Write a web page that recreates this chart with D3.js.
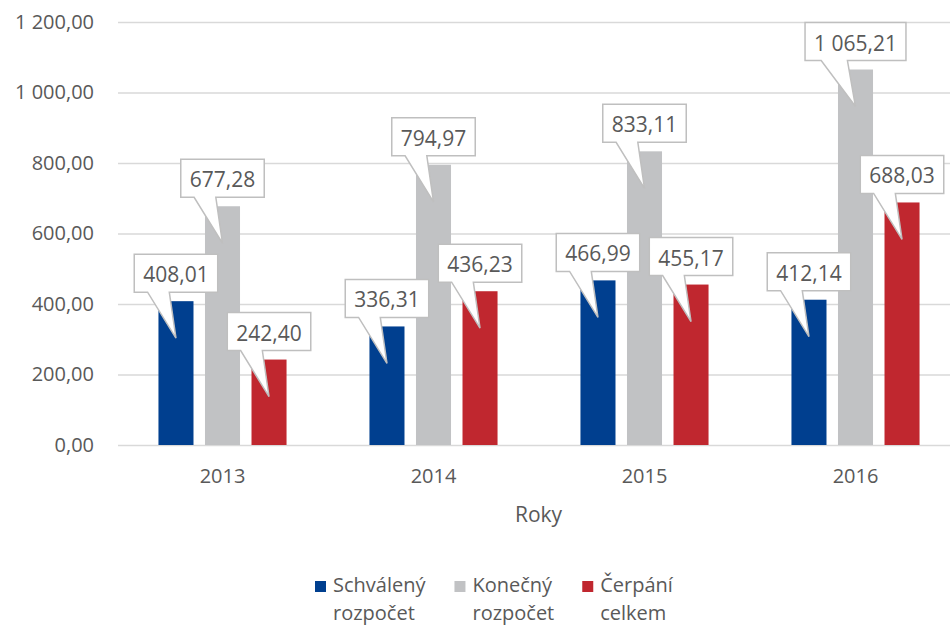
<!DOCTYPE html>
<html>
<head>
<meta charset="utf-8">
<script src="https://cdn.jsdelivr.net/npm/d3@7"></script>
<style>
  body { margin: 0; background: #fff; }
  svg { display: block; font-family: "Open Sans", "Noto Sans", sans-serif; }
</style>
</head>
<body>
<div class="chart"></div>
<script>
// chart data
const years = ["2013", "2014", "2015", "2016"];
const seriesNames = ["Schválený rozpočet", "Konečný rozpočet", "Čerpání celkem"];
const legendLines = [["Schválený", "rozpočet"], ["Konečný", "rozpočet"], ["Čerpání", "celkem"]];
const schvaleny = [408.01, 336.31, 466.99, 412.14];
const konecny = [677.28, 794.97, 833.11, 1065.21];
const cerpani = [242.40, 436.23, 455.17, 688.03];
const yTicks = [0, 200, 400, 600, 800, 1000, 1200];
const xTitle = "Roky";

const colors = ["#003f8f", "#c1c2c4", "#c0272f"];
const textColor = "#595959";

const width = 950, height = 625;
const svg = d3.select(".chart").append("svg")
  .attr("width", width)
  .attr("height", height);

// czech number format: space thousands, comma decimal
const cz = d3.formatLocale({ decimal: ",", thousands: " ", grouping: [3], currency: ["", " Kč"] });
const fmt = cz.format(",.2f");

const plotLeft = 118, plotRight = 961, plotTop = 22, plotBottom = 445;

const y = d3.scaleLinear().domain([0, 1200]).range([plotBottom, plotTop]);

const x0 = d3.scaleBand()
  .domain(years)
  .range([117, 961])
  .paddingInner(0.393)
  .paddingOuter(0.1965);

const x1 = d3.scaleBand()
  .domain(d3.range(seriesNames.length))
  .range([0, x0.bandwidth()])
  .paddingInner(0.247);

// gridlines + y labels
const yAxis = svg.append("g")
  .attr("transform", `translate(${plotLeft},0)`)
  .call(d3.axisLeft(y).tickValues(yTicks).tickFormat(fmt)
    .tickSize(-(plotRight - plotLeft)).tickPadding(24));
yAxis.select(".domain").remove();
yAxis.selectAll("line").attr("stroke", "#d9d9d9").attr("stroke-width", 1.3);
yAxis.selectAll("text").attr("fill", textColor).attr("font-size", 20)
  .attr("font-family", "'Open Sans', sans-serif");

// x axis labels
const xAxis = svg.append("g")
  .attr("transform", `translate(0,${plotBottom})`)
  .call(d3.axisBottom(x0).tickSize(0).tickPadding(24));
xAxis.select(".domain").remove();
xAxis.selectAll("text").attr("fill", textColor).attr("font-size", 20)
  .attr("font-family", "'Open Sans', sans-serif");

svg.append("text")
  .attr("x", (plotLeft + plotRight) / 2 - 1)
  .attr("y", 522)
  .attr("text-anchor", "middle")
  .attr("fill", textColor)
  .attr("font-size", 21)
  .text(xTitle);

// flatten for bars
const series = [schvaleny, konecny, cerpani];
const barData = [];
years.forEach((yr, i) => {
  series.forEach((vals, s) => {
    barData.push({ year: yr, s: s, value: vals[i] });
  });
});

svg.append("g").selectAll("rect")
  .data(barData)
  .join("rect")
  .attr("x", d => x0(d.year) + x1(d.s))
  .attr("y", d => y(d.value))
  .attr("width", x1.bandwidth())
  .attr("height", d => y(0) - y(d.value))
  .attr("fill", d => colors[d.s]);

// data callouts
const callouts = svg.append("g");
barData.forEach(d => {
  const cx = x0(d.year) + x1(d.s) + x1.bandwidth() / 2;
  const top = y(d.value);
  const g = callouts.append("g");
  const path = g.append("path");
  const label = g.append("text")
    .attr("x", cx)
    .attr("text-anchor", "middle")
    .attr("fill", textColor)
    .attr("font-size", 21)
    .text(fmt(d.value));
  const tw = label.node().getComputedTextLength();
  const w = tw + 18, h = 38;
  const bBottom = top - 9, bTop = bBottom - h;
  const left = cx - w / 2, right = cx + w / 2;
  const baseL = left + 0.16 * w, baseR = left + 0.42 * w;
  const tipX = cx, tipY = top + 37;
  path.attr("d", `M${left},${bTop}H${right}V${bBottom}H${baseR}L${tipX},${tipY}L${baseL},${bBottom}H${left}Z`)
    .attr("fill", "#fff")
    .attr("stroke", "#bfbfbf")
    .attr("stroke-width", 1.5)
    .attr("stroke-linejoin", "miter");
  label.attr("y", bTop + 28);
});

// legend
const legend = svg.append("g");
let lx = 315;
legendLines.forEach((lines, i) => {
  const item = legend.append("g");
  item.append("rect")
    .attr("x", lx).attr("y", 581)
    .attr("width", 11).attr("height", 11)
    .attr("fill", colors[i]);
  const t = item.append("text")
    .attr("fill", textColor)
    .attr("font-size", 20);
  lines.forEach((ln, k) => {
    t.append("tspan").attr("x", lx + 18).attr("y", 592 + k * 28).text(ln);
  });
  lx += 18 + t.node().getBBox().width + 28;
});
</script>
</body>
</html>
